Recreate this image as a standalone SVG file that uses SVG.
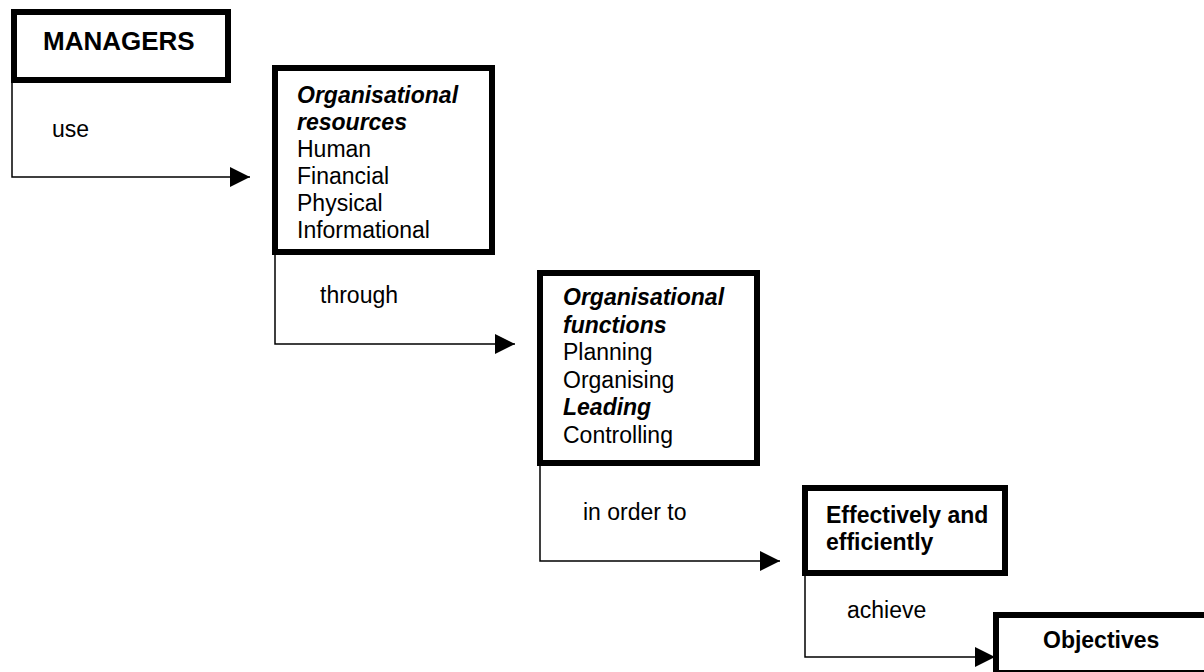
<svg xmlns="http://www.w3.org/2000/svg" width="1204" height="672" viewBox="0 0 1204 672">
<defs>
<style>
.box{fill:#fff;stroke:#000;stroke-width:6}
.con{fill:none;stroke:#000;stroke-width:1.5}
text{font-family:"Liberation Sans",Arial,sans-serif;font-size:23px;fill:#000}
.b{font-weight:bold}
.bi{font-weight:bold;font-style:italic}
</style>
<marker id="arr" markerUnits="userSpaceOnUse" markerWidth="20" markerHeight="20" viewBox="0 0 20 20" refX="20" refY="10" orient="auto">
<path d="M0,0 L20,10 L0,20 z" fill="#000"/>
</marker>
</defs>
<rect width="1204" height="672" fill="#fff"/>
<g id="connectors">
<path class="con" d="M12,83 V177 H250" marker-end="url(#arr)"/>
<path class="con" d="M275,255 V344 H515" marker-end="url(#arr)"/>
<path class="con" d="M540,466 V561 H780" marker-end="url(#arr)"/>
<path class="con" d="M805,576 V657 H995" marker-end="url(#arr)"/>
<text x="52" y="137">use</text>
<text x="320" y="303">through</text>
<text x="583" y="520">in order to</text>
<text x="847" y="618">achieve</text>
</g>
<g id="managers">
<rect class="box" x="14" y="12" width="214" height="68"/>
<text class="b" x="43" y="50" style="font-size:26px">MANAGERS</text>
</g>
<g id="resources">
<rect class="box" x="275" y="68" width="217" height="184"/>
<text x="297" y="103"><tspan class="bi">Organisational</tspan><tspan class="bi" x="297" dy="27">resources</tspan><tspan x="297" dy="27">Human</tspan><tspan x="297" dy="27">Financial</tspan><tspan x="297" dy="27">Physical</tspan><tspan x="297" dy="27">Informational</tspan></text>
</g>
<g id="functions">
<rect class="box" x="540" y="273" width="217" height="190"/>
<text x="563" y="305"><tspan class="bi">Organisational</tspan><tspan class="bi" x="563" dy="27.5">functions</tspan><tspan x="563" dy="27.5">Planning</tspan><tspan x="563" dy="27.5">Organising</tspan><tspan class="bi" x="563" dy="27.5">Leading</tspan><tspan x="563" dy="27.5">Controlling</tspan></text>
</g>
<g id="effectively">
<rect class="box" x="805" y="488" width="200" height="85"/>
<text class="b" x="826" y="523">Effectively and<tspan x="826" dy="27">efficiently</tspan></text>
</g>
<g id="objectives">
<rect class="box" x="996" y="615" width="220" height="58"/>
<text class="b" x="1043" y="648">Objectives</text>
</g>
</svg>
